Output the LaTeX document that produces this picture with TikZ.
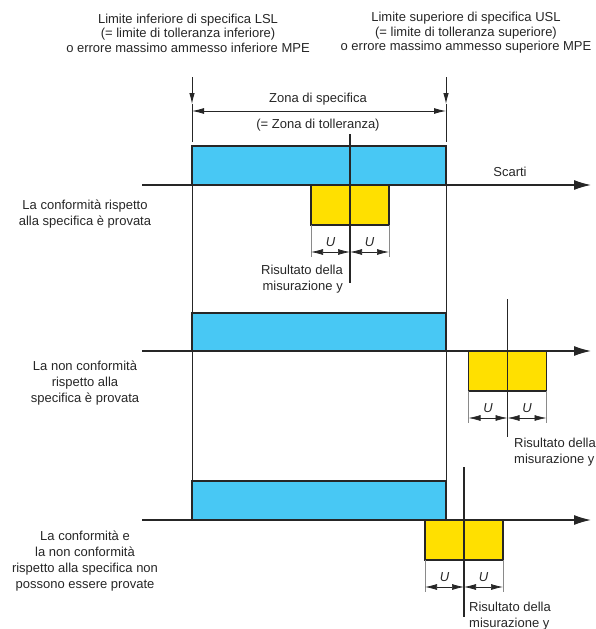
\documentclass[tikz,border=0pt]{standalone}
\usepackage{fontspec}
\setmainfont{Liberation Sans}
\usetikzlibrary{arrows.meta}
\definecolor{ink}{HTML}{262626}
\definecolor{zoneblue}{HTML}{48C8F4}
\definecolor{uyellow}{HTML}{FFE000}
\definecolor{extgray}{HTML}{8A8A8A}
\begin{document}
\begin{tikzpicture}[x=1pt,y=-1pt,
  ln/.style={draw=ink, line width=1.3pt},
  zonebox/.style={draw=ink, line width=1.3pt, fill=zoneblue},
  ubox/.style={draw=ink, line width=1.3pt, fill=uyellow},
  extl/.style={draw=extgray, line width=0.7pt},
  dimarr/.style={draw=ink, line width=0.7pt, {Latex[length=12pt,width=6pt]}-{Latex[length=12pt,width=6pt]}},
  downarr/.style={draw=ink, line width=0.9pt, -{Latex[length=11pt,width=5.5pt]}},
  axisarr/.style={ln, -{Latex[length=17pt,width=10pt]}},
  txt/.style={text=ink, font=\fontsize{13}{16}\selectfont, inner sep=0pt},
  toptxt/.style={text=ink, font=\fontsize{13}{14.5}\selectfont, inner sep=0pt, align=center}
]
\useasboundingbox (0,0) rectangle (595,629);

% header texts
\node[toptxt] (lsl) at (188,33) {Limite inferiore di specifica LSL\\(= limite di tolleranza inferiore)\\o errore massimo ammesso inferiore MPE};
\node[toptxt] (usl) at (466,33) {Limite superiore di specifica USL\\(= limite di tolleranza superiore)\\o errore massimo ammesso superiore MPE};

% limit arrows and zone dimension
\coordinate (lt) at (192,77);
\coordinate (lb) at (192,104);
\coordinate (rt) at (446,77);
\coordinate (rb) at (446,104);
\draw[downarr] (lt) -- (lb);
\draw[downarr] (rt) -- (rb);
\draw[ln, line width=0.9pt] (lb) -- (192,142);
\draw[ln, line width=0.9pt] (rb) -- (446,142);
\draw[dimarr, line width=0.9pt] (192,111) -- (446,111);
\node[txt] (zona) at (318,99) {Zona di specifica};
\node[txt] (toll) at (318,125) {(= Zona di tolleranza)};

% main vertical limit lines
\draw[ln, line width=0.9pt] (192,146) -- (192,520);
\draw[ln, line width=0.9pt] (446,146) -- (446,520);

% rows: box top / axis / centre / centre line top / centre line bottom
\foreach \n/\tp/\ax/\c/\ct/\cb in {1/146/185/350/134/283, 2/313/351/507.5/299/437, 3/481/520/464/467/617}{
  \draw[zonebox] (192,\tp) rectangle (446,\ax);
  \draw[ubox] ({\c-39},\ax) rectangle ({\c+39},{\ax+40});
  \draw[axisarr] (142,\ax) -- (591,\ax);
  \draw[ln] (\c,\ct) -- (\c,\cb);
  \draw[extl] ({\c-39},{\ax+40}) -- ({\c-39},{\ax+72});
  \draw[extl] ({\c+39},{\ax+40}) -- ({\c+39},{\ax+72});
  \draw[dimarr] ({\c-39},{\ax+67}) -- (\c,{\ax+67});
  \draw[dimarr] (\c,{\ax+67}) -- ({\c+39},{\ax+67});
  \node[txt] (ul\n) at ({\c-19.5},{\ax+57}) {\itshape U};
  \node[txt] (ur\n) at ({\c+19.5},{\ax+57}) {\itshape U};
}

\node[txt] (scarti) at (510,172) {Scarti};

% row labels
\node[txt, align=center] (row1) at (85,214.5) {La conformità rispetto\\alla specifica è provata};
\node[txt, align=center] (row2) at (85,383) {La non conformità\\rispetto alla\\specifica è provata};
\node[txt, align=center] (row3) at (85,561.5) {La conformità e\\la non conformità\\rispetto alla specifica non\\possono essere provate};

% measurement result labels
\node[txt, align=right, anchor=east] (ris1) at (343,279) {Risultato della\\misurazione y};
\node[txt, align=left, anchor=west] (ris2) at (514,452) {Risultato della\\misurazione y};
\node[txt, align=left, anchor=west] (ris3) at (469,616) {Risultato della\\misurazione y};
\end{tikzpicture}
\end{document}
